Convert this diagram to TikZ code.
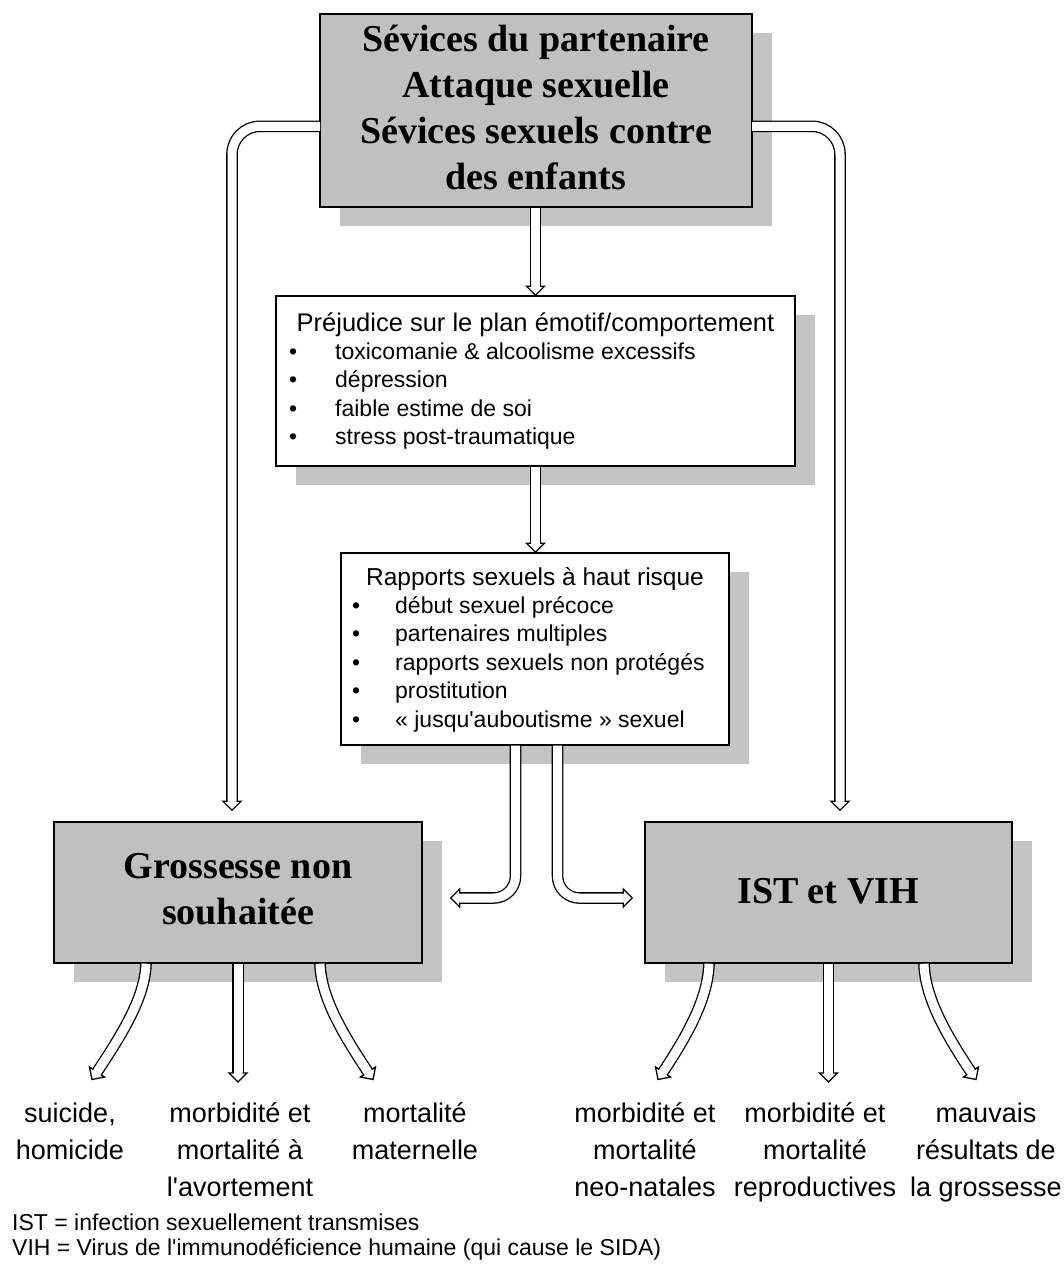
\documentclass[tikz,border=0pt]{standalone}
\usepackage{fontspec}
\setmainfont{Liberation Serif}
\newfontfamily\sansf{Liberation Sans}
\usetikzlibrary{calc,shadows}
\definecolor{boxgray}{RGB}{192,192,192}
\definecolor{shadgray}{RGB}{196,196,196}
\newcommand\ahead[2]{\filldraw[headtip,shift={#1},rotate=#2] (0,4.5)--(0,9)--(9,0)--(0,-9)--(0,-4.5);}
\newcommand\bul[1]{\makebox[#1][l]{•}}
\begin{document}
\begin{tikzpicture}[x=1pt,y=-1pt,
 box/.style={draw=black,line width=1.4pt,inner sep=0pt,
   drop shadow={shadow xshift=20pt,shadow yshift=-19pt,fill=shadgray,opacity=1,draw=none}},
 graybox/.style={box,fill=boxgray},
 whitebox/.style={box,fill=white},
 bigtxt/.style={anchor=north,inner sep=0pt,align=center,font=\bfseries\fontsize{38}{46}\selectfont},
 ttl/.style={anchor=north,inner sep=0pt},
 items/.style={anchor=north west,inner sep=0pt,align=left,font=\sansf\fontsize{23}{28.5}\selectfont},
 lbl/.style={anchor=north,inner sep=0pt,align=center,font=\sansf\fontsize{27}{37}\selectfont},
 note/.style={anchor=north west,inner sep=0pt,align=left,font=\sansf\fontsize{23}{24}\selectfont},
 dbl/.style={draw=black,line width=1.3pt,double=white,double distance=9pt},
 headtip/.style={fill=white,draw=black,line width=1.3pt,line join=miter}]

\fill[white] (0,0) rectangle (1064,1266);
\useasboundingbox (0,0) rectangle (1064,1266);

% boxes
\node[graybox,minimum width=432pt,minimum height=193pt] (top) at (536,110.5) {};
\node[whitebox,minimum width=519pt,minimum height=170pt] (prej) at (535.5,381) {};
\node[whitebox,minimum width=388pt,minimum height=192pt] (rap) at (535,649) {};
\node[graybox,minimum width=368pt,minimum height=141pt] (gro) at (238,892.5) {};
\node[graybox,minimum width=367pt,minimum height=141pt] (ist) at (828.5,892.5) {};

% box texts
\node[bigtxt] (toptxt) at (536,19.5) {\strut Sévices du partenaire\\Attaque sexuelle\\Sévices sexuels contre\\des enfants};
\node[bigtxt] (grotxt) at (238,846) {\strut Grossesse non\\souhaitée};
\node[bigtxt] (isttxt) at (828,871) {\strut IST et VIH};

\node[ttl,font=\sansf\fontsize{25.5}{28.5}\selectfont] (prejt) at (535.5,311) {\strut Préjudice sur le plan émotif/comportement};
\node[items] (preji) at (289,339) {\strut\bul{46pt}toxicomanie \& alcoolisme excessifs\\
\bul{46pt}dépression\\
\bul{46pt}faible estime de soi\\
\bul{46pt}stress post-traumatique};

\node[ttl,font=\sansf\fontsize{24.5}{28.5}\selectfont] (rapt) at (535,565) {\strut Rapports sexuels à haut risque};
\node[items] (rapi) at (352,593) {\strut\bul{43pt}début sexuel précoce\\
\bul{43pt}partenaires multiples\\
\bul{43pt}rapports sexuels non protégés\\
\bul{43pt}prostitution\\
\bul{43pt}«~jusqu'auboutisme~» sexuel};

% bottom labels
\node[lbl] (l1) at (70,1096) {\strut suicide,\\homicide};
\node[lbl] (l2) at (240,1096) {\strut morbidité et\\mortalité à\\l'avortement};
\node[lbl] (l3) at (415,1096) {\strut mortalité\\maternelle};
\node[lbl] (l4) at (645,1096) {\strut morbidité et\\mortalité\\neo-natales};
\node[lbl] (l5) at (815,1096) {\strut morbidité et\\mortalité\\reproductives};
\node[lbl] (l6) at (986,1096) {\strut mauvais\\résultats de\\la grossesse};

\node[note] (fn) at (12,1213) {\strut IST = infection sexuellement transmises\\VIH = Virus de l'immunodéficience humaine (qui cause le SIDA)};

% coordinates
\coordinate (e1) at ($(prej.north)+(0,-9)$);
\coordinate (e2) at ($(prej.south |- rap.north)+(0,-9)$);
\coordinate (tl) at ($(top.north west)+(0.7,113)$);
\coordinate (tr) at ($(top.north east)+(-0.7,113)$);
\coordinate (e3) at ($(gro.north)+(-6,-20)$);
\coordinate (e4) at ($(ist.north)+(11.5,-20)$);
\coordinate (e5) at ($(gro.east)+(37,5.5)$);
\coordinate (e6) at ($(ist.west)+(-21,5.5)$);
\coordinate (g1s) at ($(gro.south)+(-92,0)$);
\coordinate (g3s) at ($(gro.south)+(82,0)$);
\coordinate (i1s) at ($(ist.south)+(-119.5,0)$);
\coordinate (i3s) at ($(ist.south)+(95.5,0)$);
\coordinate (g1e) at (97,1072);
\coordinate (g2e) at (238,1073);
\coordinate (g3e) at (368,1072);
\coordinate (i1e) at (663,1072);
\coordinate (i2e) at (828.5,1073);
\coordinate (i3e) at (971,1072);

% connectors
\draw[dbl] (prej.north |- top.south) -- (e1); \ahead{(e1)}{-90}
\draw[dbl] (prej.south) -- (e2); \ahead{(e2)}{-90}
\draw[dbl,rounded corners=28pt] (tl) -| (e3); \ahead{(e3)}{-90}
\draw[dbl,rounded corners=28pt] (tr) -| (e4); \ahead{(e4)}{-90}
\draw[dbl,rounded corners=22pt] ($(rap.south)+(-19.5,0)$) |- (e5); \ahead{(e5)}{180}
\draw[dbl,rounded corners=22pt] ($(rap.south)+(22.5,0)$) |- (e6); \ahead{(e6)}{0}

\draw[dbl] (g1s) .. controls +(-1,32) and +(28,-42) .. (g1e); \ahead{(g1e)}{-123.69}
\draw[dbl] (gro.south) -- (g2e); \ahead{(g2e)}{-90}
\draw[dbl] (g3s) .. controls +(1,32) and +(-28,-42) .. (g3e); \ahead{(g3e)}{-56.31}
\draw[dbl] (i1s) .. controls +(-1,32) and +(28,-42) .. (i1e); \ahead{(i1e)}{-123.69}
\draw[dbl] (ist.south) -- (i2e); \ahead{(i2e)}{-90}
\draw[dbl] (i3s) .. controls +(1,32) and +(-28,-42) .. (i3e); \ahead{(i3e)}{-56.31}
\end{tikzpicture}
\end{document}
